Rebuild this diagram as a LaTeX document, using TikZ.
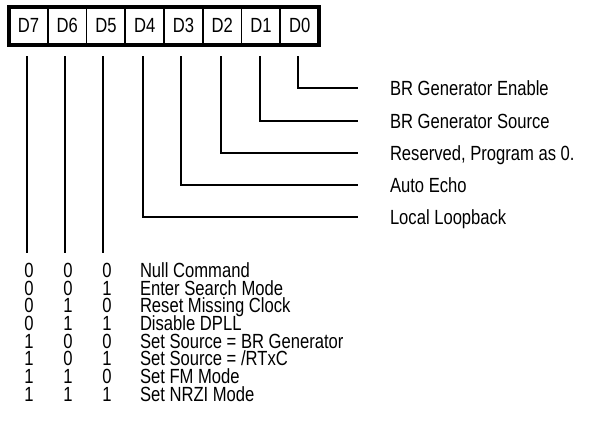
\documentclass[tikz,border=0pt]{standalone}
\usepackage{fontspec}
\setmainfont{Liberation Sans}[FakeStretch=0.81]
\usetikzlibrary{calc}
\begin{document}
\begin{tikzpicture}[x=1pt,y=-1pt,
  every node/.style={font=\fontsize{20.5}{24}\selectfont, inner sep=0pt, outer sep=0pt},
  cell/.style={draw, line width=1.6pt, minimum width=38.75pt, minimum height=38pt, anchor=west},
  wire/.style={line width=1.6pt},
  lbl/.style={anchor=base west},
  bit/.style={anchor=base},
  desc/.style={anchor=base west}]
\useasboundingbox (0,0) rectangle (597,445);
% register cells
\foreach \n [count=\i from 0] in {7,6,5,4,3,2,1,0}{
  \node[cell] (d\n) at ({9+38.75*\i},25.75) {D\n};
}
\draw[line width=4.5pt] (d7.north west) rectangle (d0.south east);
% start points of wires
\foreach \n/\x in {7/27,6/65,5/103,4/143,3/181,2/221,1/260,0/298}{
  \coordinate (s\n) at (\x,56);
}
% right-hand labels
\foreach \n/\y/\t in {0/88/{BR Generator Enable},1/121/{BR Generator Source},2/153/{Reserved, Program as 0.},3/185/{Auto Echo},4/217/{Local Loopback}}{
  \coordinate (e\n) at (358,\y);
  \node[lbl] (l\n) at (390,\y+7.3) {\t};
  \draw[wire] (s\n) |- (e\n);
}
% bottom wires
\foreach \n in {7,6,5}{
  \coordinate (b\n) at ($(s\n)+(0,197)$);
  \draw[wire] (s\n) -- (b\n);
}
% table
\foreach \a/\b/\c/\t [count=\r from 0] in {0/0/0/{Null Command},0/0/1/{Enter Search Mode},0/1/0/{Reset Missing Clock},0/1/1/{Disable DPLL},1/0/0/{Set Source = BR Generator},1/0/1/{Set Source = /RTxC},1/1/0/{Set FM Mode},1/1/1/{Set NRZI Mode}}{
  \node[bit] (ra\r) at (29,{270+17.7*\r+7.3}) {\a};
  \node[bit] (rb\r) at (68,{270+17.7*\r+7.3}) {\b};
  \node[bit] (rc\r) at (107,{270+17.7*\r+7.3}) {\c};
  \node[desc] (rt\r) at (140,{270+17.7*\r+7.3}) {\t};
}
\end{tikzpicture}
\end{document}
